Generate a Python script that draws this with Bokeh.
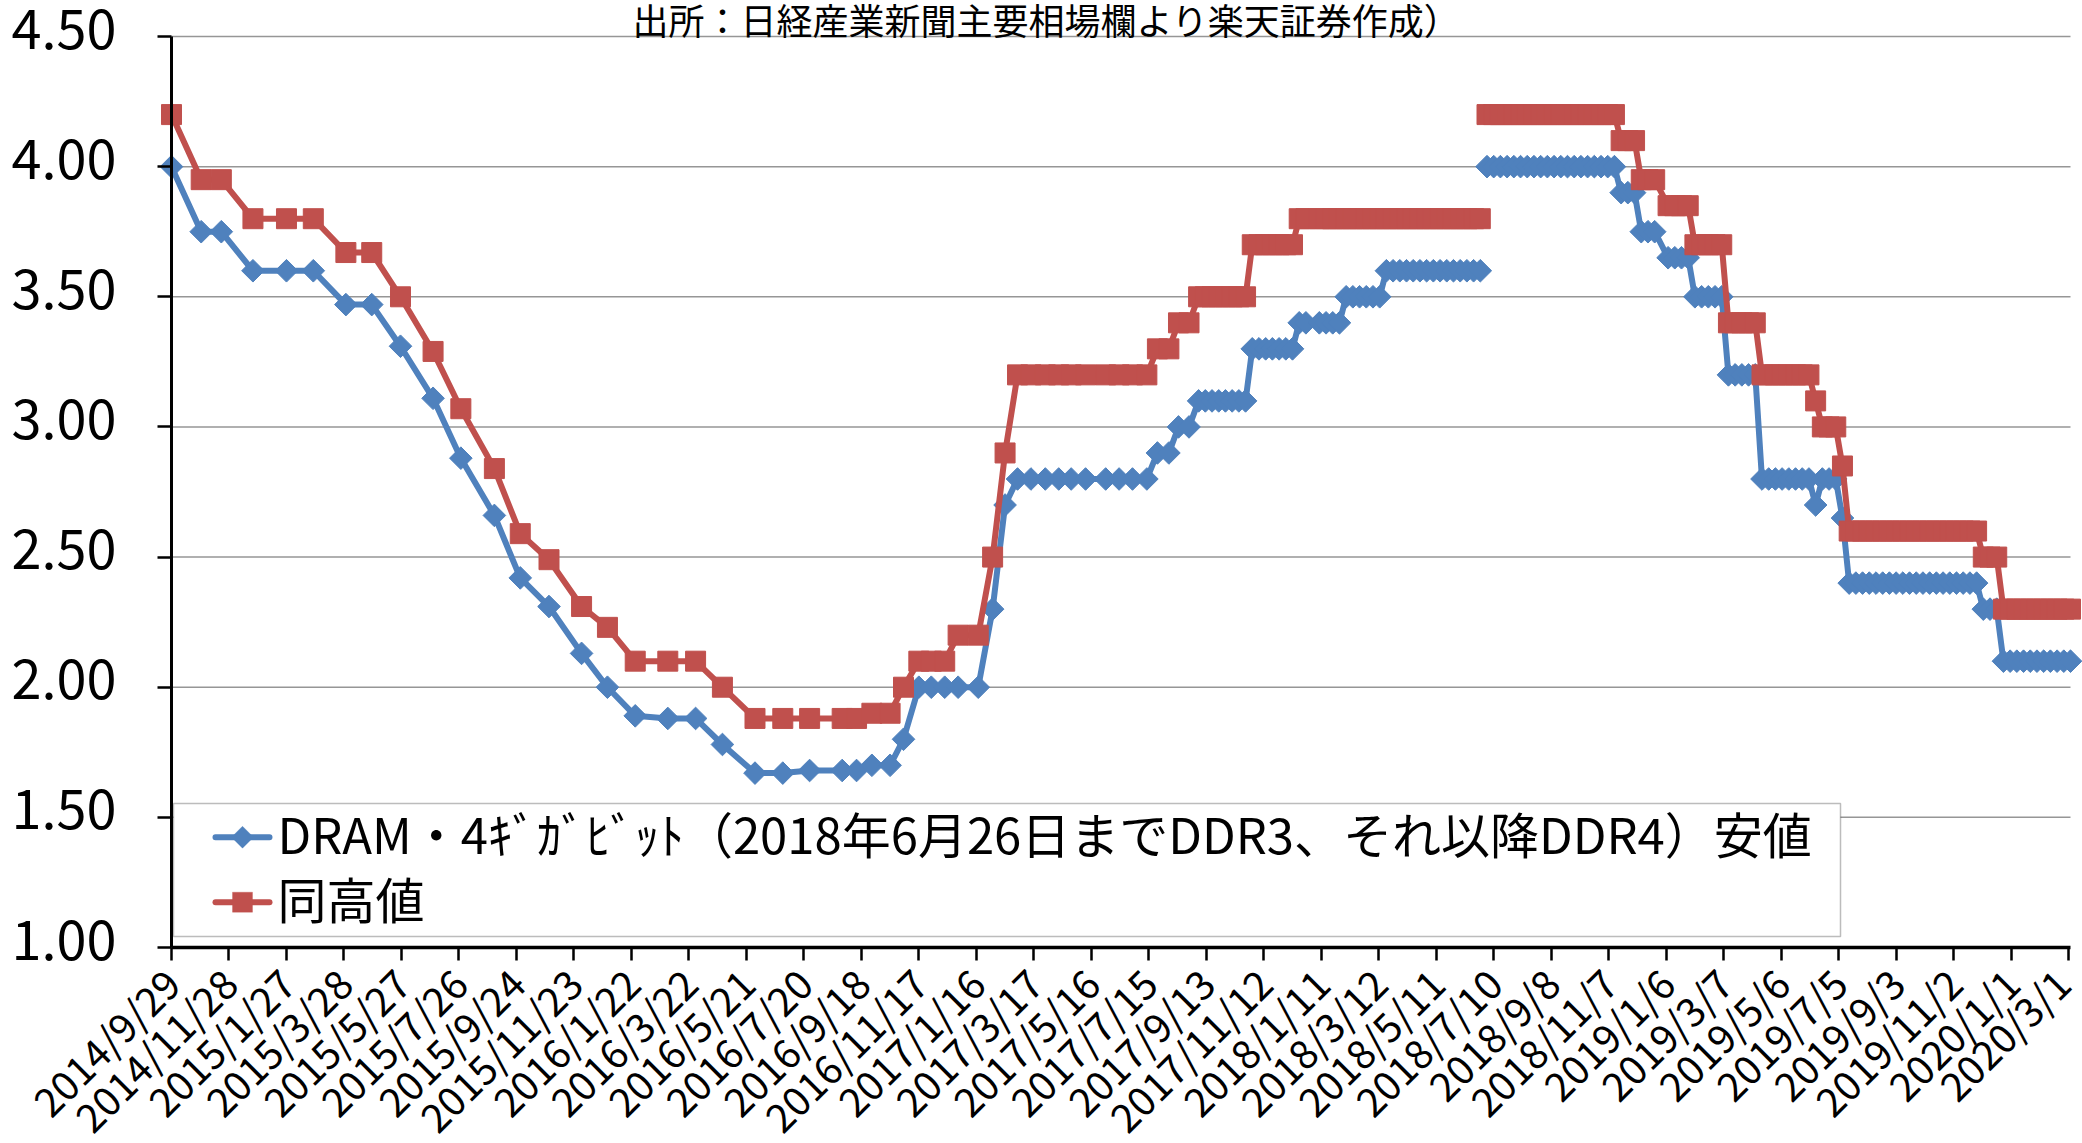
import numpy as np
import pandas as pd
from bokeh.plotting import figure
from bokeh.models import (Range1d, FixedTicker, Label, LabelSet, BoxAnnotation,
                          PolyAnnotation, ColumnDataSource)
from bokeh.core.properties import value
from bokeh.embed import file_html
from bokeh.resources import INLINE

FONT = "Noto Sans CJK JP"
BLUE = "#4F81BD"
RED = "#C0504D"
GRID = "#969696"

# ---------------------------------------------------------------- data
# DDR3 quotes (monthly / twice-monthly, then weekly) up to 2018/6/26
dates_ddr3 = [
    "2014/9/29", "2014/10/30", "2014/11/20", "2014/12/23", "2015/1/27", "2015/2/24",
    "2015/3/30", "2015/4/26", "2015/5/26", "2015/6/29", "2015/7/28", "2015/9/1",
    "2015/9/28", "2015/10/28", "2015/12/1", "2015/12/28", "2016/1/26", "2016/2/29",
    "2016/3/29", "2016/4/26", "2016/5/30", "2016/6/28", "2016/7/26", "2016/8/29",
    "2016/9/13", "2016/9/29", "2016/10/18", "2016/11/1", "2016/11/17", "2016/11/30",
    "2016/12/14", "2016/12/28", "2017/1/18", "2017/2/2", "2017/2/15", "2017/2/28",
    "2017/3/14", "2017/3/29", "2017/4/12", "2017/4/25", "2017/5/10", "2017/5/31",
    "2017/6/14", "2017/6/28", "2017/7/13", "2017/7/24", "2017/8/5", "2017/8/15",
    "2017/8/26",
    "2017/9/5", "2017/9/12", "2017/9/19", "2017/9/26", "2017/10/3", "2017/10/10",
    "2017/10/17", "2017/10/24", "2017/10/31", "2017/11/7", "2017/11/14", "2017/11/21",
    "2017/11/28", "2017/12/5", "2017/12/12", "2017/12/19", "2017/12/26", "2018/1/9",
    "2018/1/16", "2018/1/23", "2018/1/30", "2018/2/6", "2018/2/13", "2018/2/20",
    "2018/2/27", "2018/3/6", "2018/3/13", "2018/3/20", "2018/3/27", "2018/4/3",
    "2018/4/10", "2018/4/17", "2018/4/24", "2018/5/1", "2018/5/8", "2018/5/15",
    "2018/5/22", "2018/5/29", "2018/6/5", "2018/6/12", "2018/6/19", "2018/6/26",
]
low_ddr3 = [
    4.00, 3.75, 3.75, 3.60, 3.60, 3.60, 3.47, 3.47, 3.31, 3.11, 2.88, 2.66,
    2.42, 2.31, 2.13, 2.00, 1.89, 1.88, 1.88, 1.78, 1.67, 1.67, 1.68, 1.68,
    1.68, 1.70, 1.70, 1.80, 2.00, 2.00, 2.00, 2.00, 2.00, 2.30, 2.70, 2.80,
    2.80, 2.80, 2.80, 2.80, 2.80, 2.80, 2.80, 2.80, 2.80, 2.90, 2.90, 3.00,
    3.00,
    3.10, 3.10, 3.10, 3.10, 3.10, 3.10, 3.10, 3.10,
    3.30, 3.30, 3.30, 3.30, 3.30, 3.30, 3.30,
    3.40, 3.40, 3.40, 3.40, 3.40, 3.40,
    3.50, 3.50, 3.50, 3.50, 3.50, 3.50,
    3.60, 3.60, 3.60, 3.60, 3.60, 3.60, 3.60, 3.60, 3.60, 3.60, 3.60, 3.60,
    3.60, 3.60, 3.60,
]
high_ddr3 = [
    4.20, 3.95, 3.95, 3.80, 3.80, 3.80, 3.67, 3.67, 3.50, 3.29, 3.07, 2.84,
    2.59, 2.49, 2.31, 2.23, 2.10, 2.10, 2.10, 2.00, 1.88, 1.88, 1.88, 1.88,
    1.88, 1.90, 1.90, 2.00, 2.10, 2.10, 2.10, 2.20, 2.20, 2.50, 2.90, 3.20,
    3.20, 3.20, 3.20, 3.20, 3.20, 3.20, 3.20, 3.20, 3.20, 3.30, 3.30, 3.40,
    3.40,
    3.50, 3.50, 3.50, 3.50, 3.50, 3.50, 3.50, 3.50,
    3.70, 3.70, 3.70, 3.70, 3.70, 3.70, 3.70,
    3.80, 3.80, 3.80, 3.80, 3.80, 3.80,
    3.80, 3.80, 3.80, 3.80, 3.80, 3.80,
    3.80, 3.80, 3.80, 3.80, 3.80, 3.80, 3.80, 3.80, 3.80, 3.80, 3.80, 3.80,
    3.80, 3.80, 3.80,
]

# DDR4 weekly quotes from 2018/7/3
dates_ddr4 = [
    "2018/7/3", "2018/7/10", "2018/7/17", "2018/7/24", "2018/7/31", "2018/8/7",
    "2018/8/14", "2018/8/21", "2018/8/28", "2018/9/4", "2018/9/11", "2018/9/18",
    "2018/9/25", "2018/10/2", "2018/10/9", "2018/10/16", "2018/10/23", "2018/10/30",
    "2018/11/6", "2018/11/13", "2018/11/20", "2018/11/27", "2018/12/4", "2018/12/11",
    "2018/12/18", "2018/12/25", "2019/1/8", "2019/1/15", "2019/1/22", "2019/1/29",
    "2019/2/5", "2019/2/12", "2019/2/19", "2019/2/26", "2019/3/5", "2019/3/12",
    "2019/3/19", "2019/3/26", "2019/4/2", "2019/4/9", "2019/4/16", "2019/4/23",
    "2019/4/30", "2019/5/7", "2019/5/14", "2019/5/21", "2019/5/28", "2019/6/4",
    "2019/6/11", "2019/6/18", "2019/6/25", "2019/7/2", "2019/7/9", "2019/7/16",
    "2019/7/23", "2019/7/30", "2019/8/6", "2019/8/13", "2019/8/20", "2019/8/27",
    "2019/9/3", "2019/9/10", "2019/9/17", "2019/9/24", "2019/10/1", "2019/10/8",
    "2019/10/15", "2019/10/22", "2019/10/29", "2019/11/5", "2019/11/12", "2019/11/19",
    "2019/11/26", "2019/12/3", "2019/12/10", "2019/12/17", "2019/12/24", "2019/12/31",
    "2020/1/7", "2020/1/14", "2020/1/21", "2020/1/28", "2020/2/4", "2020/2/11",
    "2020/2/18", "2020/2/25", "2020/3/3",
]
low_ddr4 = [
    4.00, 4.00, 4.00, 4.00, 4.00, 4.00, 4.00, 4.00, 4.00, 4.00, 4.00, 4.00,
    4.00, 4.00, 4.00, 4.00, 4.00, 4.00, 4.00, 4.00, 3.90, 3.90, 3.90, 3.75,
    3.75, 3.75, 3.65, 3.65, 3.65, 3.65, 3.50, 3.50, 3.50, 3.50, 3.50, 3.20,
    3.20, 3.20, 3.20, 3.20, 2.80, 2.80, 2.80, 2.80, 2.80, 2.80, 2.80, 2.80,
    2.70, 2.80, 2.80, 2.80, 2.65, 2.40, 2.40, 2.40, 2.40, 2.40, 2.40, 2.40,
    2.40, 2.40, 2.40, 2.40, 2.40, 2.40, 2.40, 2.40, 2.40, 2.40, 2.40, 2.40,
    2.40, 2.30, 2.30, 2.30, 2.10, 2.10, 2.10, 2.10, 2.10, 2.10, 2.10, 2.10,
    2.10, 2.10, 2.10,
]
high_ddr4 = [
    4.20, 4.20, 4.20, 4.20, 4.20, 4.20, 4.20, 4.20, 4.20, 4.20, 4.20, 4.20,
    4.20, 4.20, 4.20, 4.20, 4.20, 4.20, 4.20, 4.20, 4.10, 4.10, 4.10, 3.95,
    3.95, 3.95, 3.85, 3.85, 3.85, 3.85, 3.70, 3.70, 3.70, 3.70, 3.70, 3.40,
    3.40, 3.40, 3.40, 3.40, 3.20, 3.20, 3.20, 3.20, 3.20, 3.20, 3.20, 3.20,
    3.10, 3.00, 3.00, 3.00, 2.85, 2.60, 2.60, 2.60, 2.60, 2.60, 2.60, 2.60,
    2.60, 2.60, 2.60, 2.60, 2.60, 2.60, 2.60, 2.60, 2.60, 2.60, 2.60, 2.60,
    2.60, 2.50, 2.50, 2.50, 2.30, 2.30, 2.30, 2.30, 2.30, 2.30, 2.30, 2.30,
    2.30, 2.30, 2.30,
]

x_tick_labels = [
    "2014/9/29", "2014/11/28", "2015/1/27", "2015/3/28", "2015/5/27", "2015/7/26",
    "2015/9/24", "2015/11/23", "2016/1/22", "2016/3/22", "2016/5/21", "2016/7/20",
    "2016/9/18", "2016/11/17", "2017/1/16", "2017/3/17", "2017/5/16", "2017/7/15",
    "2017/9/13", "2017/11/12", "2018/1/11", "2018/3/12", "2018/5/11", "2018/7/10",
    "2018/9/8", "2018/11/7", "2019/1/6", "2019/3/7", "2019/5/6", "2019/7/5",
    "2019/9/3", "2019/11/2", "2020/1/1", "2020/3/1",
]
y_ticks = [1.0, 1.5, 2.0, 2.5, 3.0, 3.5, 4.0, 4.5]
y_tick_labels = ["1.00", "1.50", "2.00", "2.50", "3.00", "3.50", "4.00", "4.50"]

series_low_name = "DRAM・4ｷﾞｶﾞﾋﾞｯﾄ（2018年6月26日までDDR3、それ以降DDR4）安値"
series_high_name = "同高値"
source_note = "出所：日経産業新聞主要相場欄より楽天証券作成）"


def to_ms(strings):
    ts = pd.to_datetime(pd.Series(strings), format="%Y/%m/%d")
    return ((ts - pd.Timestamp("1970-01-01")) // pd.Timedelta(milliseconds=1)).astype("int64").tolist()


x3 = to_ms(dates_ddr3)
x4 = to_ms(dates_ddr4)
xt = to_ms(x_tick_labels)

# ---------------------------------------------------------------- page geometry
W, H = 2082, 1143
PLOT_L, PLOT_R, PLOT_T, PLOT_B = 171, 2070, 36, 947   # plotting area inside the canvas

x_lo, x_hi = x3[0], x4[-1]
y_lo, y_hi = y_ticks[0], y_ticks[-1]
kx = (x_hi - x_lo) / (PLOT_R - PLOT_L)
ky = (y_hi - y_lo) / (PLOT_B - PLOT_T)

# the frame covers the whole canvas; axes sit at fixed positions inside it
p = figure(
    width=W, height=H, output_backend="svg", toolbar_location=None, title=None,
    x_range=Range1d(x_lo - PLOT_L * kx, x_hi + (W - PLOT_R) * kx),
    y_range=Range1d(y_lo - (H - PLOT_B) * ky, y_hi + PLOT_T * ky),
    min_border_left=0, min_border_right=0, min_border_top=0, min_border_bottom=0,
    background_fill_color="white", border_fill_color="white",
)
p.outline_line_color = None
p.xgrid.visible = False
p.ygrid.visible = False

# horizontal gridlines across the plotting area
p.segment(x0=x_lo, x1=x_hi, y0=y_ticks[1:], y1=y_ticks[1:],
          line_color=GRID, line_width=1.5, level="underlay")

# low-price series: line + diamonds (DDR3 and DDR4 drawn as separate runs)
for xs, ys in ((x3, low_ddr3), (x4, low_ddr4)):
    p.line(xs, ys, line_color=BLUE, line_width=6, line_join="round", line_cap="round")
p.scatter(x3 + x4, low_ddr3 + low_ddr4, marker="square", angle=np.pi / 4, size=16,
          fill_color=BLUE, line_color=BLUE, line_width=1)

# high-price series: line + squares
for xs, ys in ((x3, high_ddr3), (x4, high_ddr4)):
    p.line(xs, ys, line_color=RED, line_width=6, line_join="round", line_cap="round")
p.scatter(x3 + x4, high_ddr3 + high_ddr4, marker="square", size=20,
          fill_color=RED, line_color=RED, line_width=1)

# ---------------------------------------------------------------- axes
xax, yax = p.xaxis[0], p.yaxis[0]
for ax in (xax, yax):
    ax.axis_line_color = "black"
    ax.major_tick_line_color = "black"
    ax.minor_tick_line_color = None
    ax.major_tick_in = 0

xax.fixed_location = y_lo
xax.bounds = (x_lo, x_hi)
xax.ticker = FixedTicker(ticks=xt)
xax.major_label_overrides = dict(zip(xt, x_tick_labels))
xax.major_label_orientation = np.pi / 4
xax.major_label_text_font = FONT
xax.major_label_text_font_size = "40px"
xax.major_label_text_color = "black"
xax.major_label_standoff = 15
xax.axis_line_width = 3.5
xax.major_tick_out = 13
xax.major_tick_line_width = 2.5

yax.fixed_location = x_lo
yax.bounds = (y_lo, y_hi)
yax.ticker = FixedTicker(ticks=y_ticks)
yax.major_label_overrides = {t: "" for t in y_ticks}
yax.major_label_text_font_size = "0px"
yax.axis_line_width = 3
yax.major_tick_out = 14
yax.major_tick_line_width = 2.5

# value labels, set slightly above each tick
ylab = ColumnDataSource(dict(y=y_ticks, text=y_tick_labels))
p.add_layout(LabelSet(x=x_lo, y="y", text="text", source=ylab, x_offset=-55, y_offset=8,
                      text_font=value(FONT), text_font_size=value("54px"),
                      text_color="black", text_align="right", text_baseline="middle"))

# ---------------------------------------------------------------- legend (canvas px, from top)
def sy(y_from_top):
    return H - y_from_top


def screen_box(left, right, top, bottom, **kw):
    return BoxAnnotation(left=left, right=right, top=sy(top), bottom=sy(bottom),
                         left_units="screen", right_units="screen",
                         top_units="screen", bottom_units="screen", **kw)


p.add_layout(screen_box(173, 1840, 803, 936, fill_color="white", fill_alpha=1.0,
                        line_color="#222222", line_width=1.5))

legend_rows = [(836.7, BLUE, series_low_name, "diamond"), (901.7, RED, series_high_name, "square")]
for cy, col, name, shape in legend_rows:
    p.add_layout(screen_box(212, 272, cy - 3, cy + 3, fill_color=col, fill_alpha=1.0,
                            line_color=None, border_radius=3))
    if shape == "diamond":
        xs, ys = [231, 242, 253, 242], [cy, cy - 11, cy, cy + 11]
    else:
        xs, ys = [232, 252, 252, 232], [cy - 10, cy - 10, cy + 10, cy + 10]
    p.add_layout(PolyAnnotation(xs=xs, ys=[sy(v) for v in ys], xs_units="screen", ys_units="screen",
                                fill_color=col, fill_alpha=1.0, line_color=col, line_width=1))
    p.add_layout(Label(x=277, y=sy(cy - 5), x_units="screen", y_units="screen", text=name,
                       text_font=FONT, text_font_size="49px", text_color="black",
                       text_align="left", text_baseline="middle"))

# source note across the top edge
p.add_layout(Label(x=1046, y=sy(18), x_units="screen", y_units="screen", text=source_note,
                   text_font=FONT, text_font_size="36px", text_color="black",
                   text_align="center", text_baseline="middle"))

open("out.html", "w").write(file_html(p, INLINE))
